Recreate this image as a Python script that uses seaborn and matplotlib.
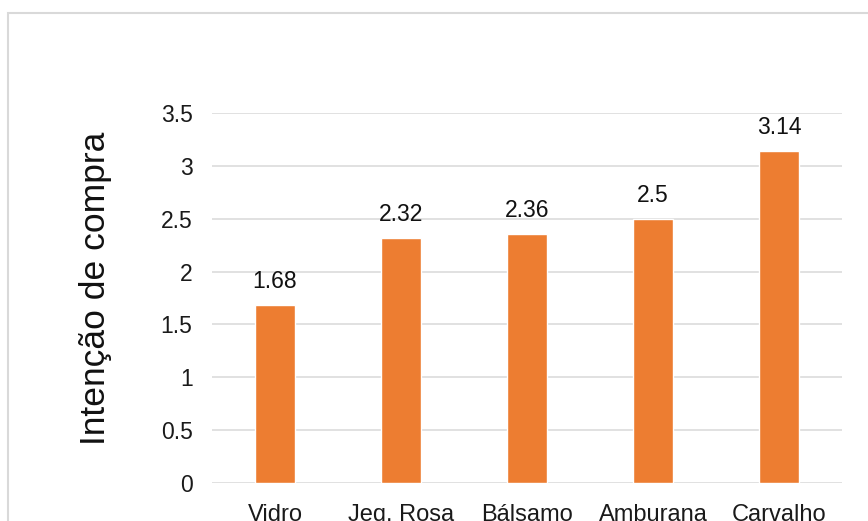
import matplotlib
matplotlib.use("Agg")
import matplotlib.pyplot as plt
from matplotlib.patches import Rectangle
import pandas as pd
import seaborn as sns

# Data
categories = ["Vidro", "Jeq. Rosa", "Bálsamo", "Amburana", "Carvalho"]
values = [1.68, 2.32, 2.36, 2.5, 3.14]
y_ticks = [0, 0.5, 1, 1.5, 2, 2.5, 3, 3.5]
y_tick_labels = ["0", "0.5", "1", "1.5", "2", "2.5", "3", "3.5"]
y_title = "Intenção de compra"

sns.set_style("white")
plt.rcParams["font.family"] = ["Liberation Sans", "DejaVu Sans"]

W, H = 868, 521
fig = plt.figure(figsize=(W / 100, H / 100), dpi=100)
fig.patch.set_facecolor("white")

# plot area in pixel terms
left, right, top, bottom = 212, 842, 113, 483
ax = fig.add_axes([left / W, (H - bottom) / H, (right - left) / W, (bottom - top) / H])

df = pd.DataFrame({"cat": categories, "val": values})
sns.barplot(data=df, x="cat", y="val", color="#ED7D31", saturation=1,
            width=0.31, ax=ax, zorder=3)

ax.set_ylim(0, 3.5)
ax.set_xlim(-0.5, len(categories) - 0.5)
ax.set_yticks(y_ticks)
ax.set_yticklabels(y_tick_labels)
ax.yaxis.grid(True, color="#D9D9D9", linewidth=1.1, zorder=0)
ax.xaxis.grid(False)
ax.set_axisbelow(True)
for s in ax.spines.values():
    s.set_visible(False)

ax.tick_params(axis="y", length=0, pad=14, labelsize=16.5, labelcolor="#1a1a1a")
ax.tick_params(axis="x", length=0, pad=15, labelsize=17, labelcolor="#1a1a1a")
ax.set_xlabel("")
ax.set_ylabel(y_title, fontsize=25.5, color="#111111")
ax.yaxis.set_label_coords(-0.158, (bottom - 288) / (bottom - top))

# value labels above the bars
for i, v in enumerate(values):
    ax.annotate(f"{v:g}", xy=(i, v), xytext=(0, 8.6), textcoords="offset points",
                ha="center", va="bottom", fontsize=16.5, color="#111111")

# outer chart border (continues past the right and bottom edges)
fig.patches.append(Rectangle((8, -20), W + 40, (H - 13) + 20, transform=None,
                             fill=False, edgecolor="#D9D9D9", linewidth=1.5))

fig.savefig("out.png", dpi=100)
